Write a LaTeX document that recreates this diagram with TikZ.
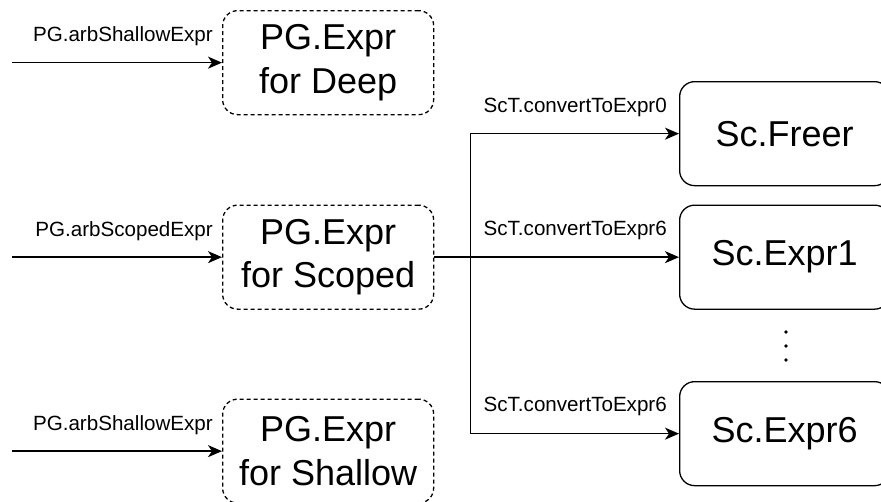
\documentclass[tikz,border=0pt]{standalone}
\usepackage{fontspec}
\setmainfont{Liberation Sans}
\usetikzlibrary{arrows.meta}
\begin{document}
\begin{tikzpicture}[x=1pt,y=-1pt,
  pgbox/.style={draw, dash pattern=on 4pt off 3pt, line width=1.3pt, rounded corners=15pt,
    minimum width=211pt, minimum height=104pt, inner sep=0pt, align=center,
    font=\fontsize{36}{43.5}\selectfont, anchor=north west},
  scbox/.style={draw, line width=1.3pt, rounded corners=15pt,
    minimum width=210pt, minimum height=104pt, inner sep=0pt,
    font=\fontsize{36}{43.5}\selectfont, anchor=north west},
  lbl/.style={font=\fontsize{20.6}{24}\selectfont, inner sep=0pt, anchor=base east},
  flow/.style={line width=1.6pt, -{Stealth[length=14pt,width=12pt,inset=4pt]}}]
\useasboundingbox (0,0) rectangle (881,501);

% generator boxes
\node[pgbox] (deep)    at (222,10)    {PG.Expr\\for Deep};
\node[pgbox] (scoped)  at (222,204.5) {PG.Expr\\for Scoped};
\node[pgbox] (shallow) at (222,398.5) {PG.Expr\\for Shallow};

% target boxes
\node[scbox] (freer) at (679,81)    {Sc.Freer};
\node[scbox] (expr1) at (679,204.5) {Sc.Expr1};
\node[scbox] (expr6) at (679,381)   {Sc.Expr6};

% vertical ellipsis between the targets
\foreach \yy in {332,346,360}
  \fill (786,\yy) circle (1.8pt);

% incoming generators
\coordinate (in1) at ([xshift=-210pt]deep.west);
\coordinate (in2) at ([xshift=-210pt]scoped.west);
\coordinate (in3) at ([xshift=-210pt]shallow.west);
\draw[flow] (in1) -- (deep.west);
\draw[flow] (in2) -- (scoped.west);
\draw[flow] (in3) -- (shallow.west);
\node[lbl] (l1) at ([xshift=-9pt,yshift=21pt]deep.west)    {PG.arbShallowExpr};
\node[lbl] (l2) at ([xshift=-9pt,yshift=21pt]scoped.west)  {PG.arbScopedExpr};
\node[lbl] (l3) at ([xshift=-9pt,yshift=21pt]shallow.west) {PG.arbShallowExpr};

% conversions out of the scoped generator
\coordinate (fork) at ([xshift=36pt]scoped.east);
\draw[flow] (scoped.east) -- (fork) |- (freer.west);
\draw[flow] (scoped.east) -- (expr1.west);
\draw[flow] (fork) |- (expr6.west);
\node[lbl] (r1) at ([xshift=-12pt,yshift=21pt]freer.west) {ScT.convertToExpr0};
\node[lbl] (r2) at ([xshift=-12pt,yshift=22pt]expr1.west) {ScT.convertToExpr6};
\node[lbl] (r3) at ([xshift=-12pt,yshift=22pt]expr6.west) {ScT.convertToExpr6};
\end{tikzpicture}
\end{document}
